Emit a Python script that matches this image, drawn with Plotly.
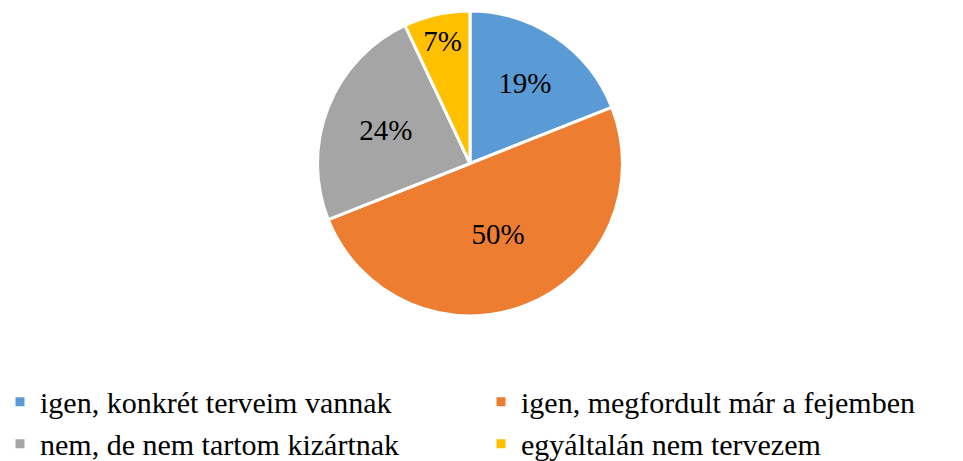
import plotly.graph_objects as go

labels = ["igen, konkrét terveim vannak", "igen, megfordult már a fejemben",
          "nem, de nem tartom kizártnak", "egyáltalán nem tervezem"]
values = [19, 50, 24, 7]
colors = ["#5B9BD5", "#ED7D31", "#A5A5A5", "#FFC000"]

W, H = 963, 461
cx, cy, r = 470, 163.5, 152.5
FONT = "Liberation Serif"

fig = go.Figure(go.Pie(
    labels=labels, values=values, sort=False, direction="clockwise", rotation=0,
    marker=dict(colors=colors, line=dict(color="white", width=3)),
    textinfo="percent", texttemplate="%{percent:.0%}", textposition="inside",
    insidetextorientation="horizontal",
    textfont=dict(family=FONT, size=29, color="black"),
    domain=dict(x=[(cx - r) / W, (cx + r) / W], y=[1 - (cy + r) / H, 1 - (cy - r) / H]),
    hoverinfo="label+percent",
))

fig.update_layout(
    width=W, height=H, margin=dict(l=0, r=0, t=0, b=0, autoexpand=False),
    paper_bgcolor="white", plot_bgcolor="white",
    font=dict(family=FONT),
    showlegend=True,
    legend=dict(orientation="h", x=0, xanchor="left", y=-0.019, yanchor="bottom",
                entrywidth=436, entrywidthmode="pixels", itemwidth=30,
                bgcolor="rgba(0,0,0,0)",
                font=dict(family=FONT, size=30, color="black"),
                traceorder="normal"),
)

fig.write_html("out.html", config={"displayModeBar": False},
               post_script="document.body.style.margin='0px';")
